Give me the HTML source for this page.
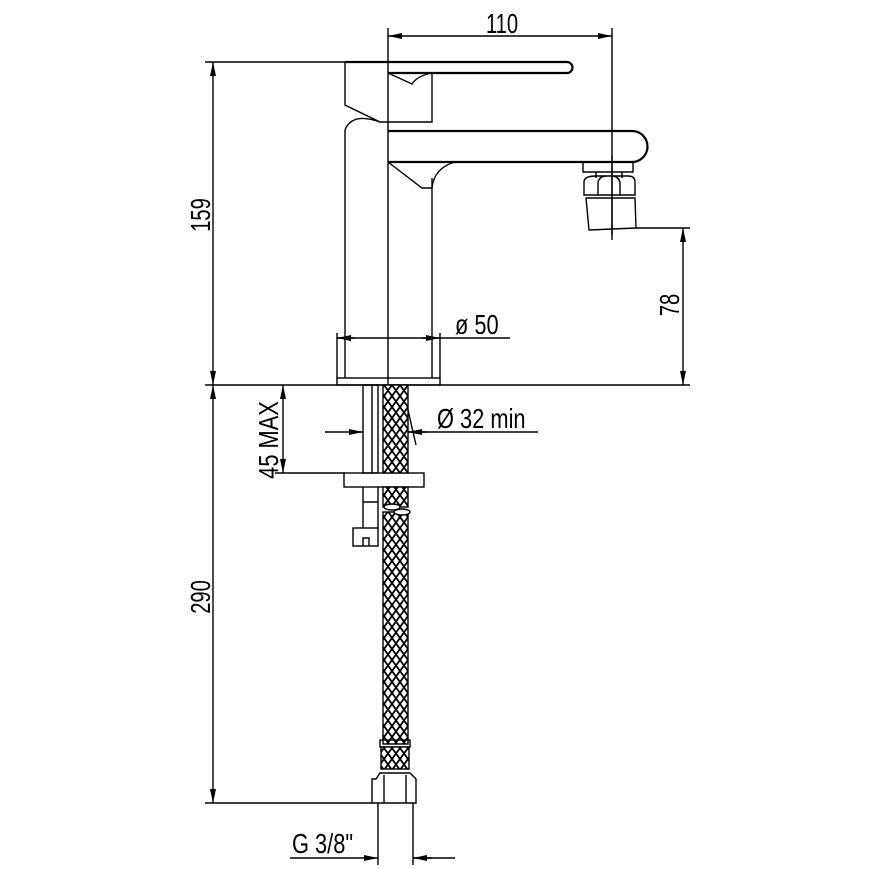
<!DOCTYPE html>
<html><head><style>
html,body{margin:0;padding:0;background:#fff;}
svg{display:block;}
text{font-family:"Liberation Sans",sans-serif;font-size:28px;fill:#000;}
</style></head><body>
<svg width="869" height="869" viewBox="0 0 869 869" xmlns="http://www.w3.org/2000/svg">
<defs>
<pattern id="mesh" width="8" height="11" patternUnits="userSpaceOnUse">
<rect width="8" height="11" fill="#fff"/>
<path d="M0 0 L8 11 M8 0 L0 11" stroke="#000" stroke-width="1.8"/>
</pattern>
<marker id="a" viewBox="0 0 14 6" refX="14" refY="3" markerWidth="14" markerHeight="6" orient="auto-start-reverse" markerUnits="userSpaceOnUse"><path d="M0 0 L14 3 L0 6z" fill="#000"/></marker>
</defs>
<g fill="none" stroke="#000" stroke-width="1.4">
<line x1="388" y1="28" x2="388" y2="385"/>
<line x1="612" y1="28" x2="612" y2="235"/>
<line x1="205" y1="62" x2="345" y2="62"/>
<line x1="205" y1="385" x2="690" y2="385"/>
<line x1="636" y1="228" x2="690" y2="228"/>
<line x1="205" y1="803" x2="372" y2="803"/>
<line x1="275" y1="473" x2="345" y2="473"/>
<line x1="388" y1="36" x2="612" y2="36" marker-start="url(#a)" marker-end="url(#a)"/>
<line x1="213" y1="62" x2="213" y2="385" marker-start="url(#a)" marker-end="url(#a)"/>
<line x1="213" y1="385" x2="213" y2="803" marker-start="url(#a)" marker-end="url(#a)"/>
<line x1="683" y1="228" x2="683" y2="385" marker-start="url(#a)" marker-end="url(#a)"/>
<line x1="283" y1="385" x2="283" y2="473" marker-start="url(#a)" marker-end="url(#a)"/>
<line x1="337" y1="338" x2="510" y2="338"/>
<line x1="337" y1="338" x2="355" y2="338" marker-start="url(#a)"/>
<line x1="440" y1="338" x2="422" y2="338" marker-start="url(#a)"/>
<line x1="325" y1="432" x2="363" y2="432" marker-end="url(#a)"/>
<line x1="408" y1="432" x2="538" y2="432"/>
<line x1="427" y1="432" x2="408" y2="432" marker-end="url(#a)"/>
<line x1="290" y1="858" x2="378" y2="858" marker-end="url(#a)"/>
<line x1="413" y1="858" x2="455" y2="858"/>
<line x1="432" y1="858" x2="413" y2="858" marker-end="url(#a)"/>
<line x1="378" y1="803" x2="378" y2="865"/>
<line x1="413" y1="803" x2="413" y2="865"/>
<path d="M345 62 H567 A5.5 5.5 0 0 1 567 73 H388" stroke-width="2.2"/>
<path d="M345 62 V105 L380 122 H432 V73"/>
<path d="M388 73 L412 84 Q417 76 432 73"/>
<path d="M345 130 V340 M432 178 V340"/>
<path d="M345 130 Q352 112 380 122"/>
<path d="M388 131 H632 A15.5 15.5 0 0 1 632 162 H388" stroke-width="2.2"/>
<path d="M388 162 L422 188 H432 Q434 168 455 162"/>
<path d="M583 162 V172 H633 V162"/>
<path d="M596 172 V178 M622 172 V178"/>
<path d="M584 182 Q584 176 596 176 H628 Q635 176 635 182 V195 H584Z"/>
<path d="M598 195 V182 Q600 176 606 176 M620 195 V182 Q618 176 612 176"/>
<path d="M586 198 H635 L636 228 L589 230Z"/>
<line x1="612" y1="155" x2="612" y2="240"/>
<rect x="337" y="378" width="103" height="7"/>
<line x1="345" y1="340" x2="345" y2="378"/><line x1="432" y1="340" x2="432" y2="378"/>
<line x1="337" y1="333" x2="337" y2="378"/><line x1="440" y1="333" x2="440" y2="378"/>
<rect x="363" y="385" width="15" height="88"/>
<line x1="372" y1="385" x2="372" y2="473"/>
<rect x="344" y="473" width="80" height="14"/>
<path d="M363 487 V528 M378 487 V528 M363 502 H378"/>
<rect x="353" y="528" width="25" height="18"/>
<path d="M363 546 V538 H369 V546"/>
<rect x="383" y="385" width="25" height="88" fill="url(#mesh)"/>
<rect x="383" y="487" width="25" height="20" fill="url(#mesh)"/>
<rect x="383" y="512" width="25" height="232" fill="url(#mesh)"/>
<ellipse cx="392" cy="507" rx="8" ry="3" fill="#fff"/>
<ellipse cx="402" cy="512" rx="8" ry="3" fill="#fff"/>
<line x1="408" y1="410" x2="416" y2="445"/>
<rect x="380" y="740" width="30" height="7"/>
<rect x="381" y="747" width="28" height="22" fill="url(#mesh)"/>
<path d="M376 779 L380 773 H410 L416 779 V803 H372 V779Z"/>
<line x1="384" y1="775" x2="384" y2="803"/><line x1="406" y1="775" x2="406" y2="803"/>
</g>
<text transform="translate(502 33) scale(0.72 1)" text-anchor="middle">110</text>
<text transform="translate(210 215) rotate(-90) scale(0.72 1)" text-anchor="middle">159</text>
<text transform="translate(210 597) rotate(-90) scale(0.72 1)" text-anchor="middle">290</text>
<text transform="translate(679 305) rotate(-90) scale(0.72 1)" text-anchor="middle">78</text>
<text transform="translate(278 440) rotate(-90) scale(0.78 1)" text-anchor="middle">45 MAX</text>
<text transform="translate(455 334) scale(0.78 1)">ø 50</text>
<text transform="translate(437 428) scale(0.78 1)">Ø 32  min</text>
<text transform="translate(292 853) scale(0.78 1)">G  3/8"</text>
</svg>
</body></html>
